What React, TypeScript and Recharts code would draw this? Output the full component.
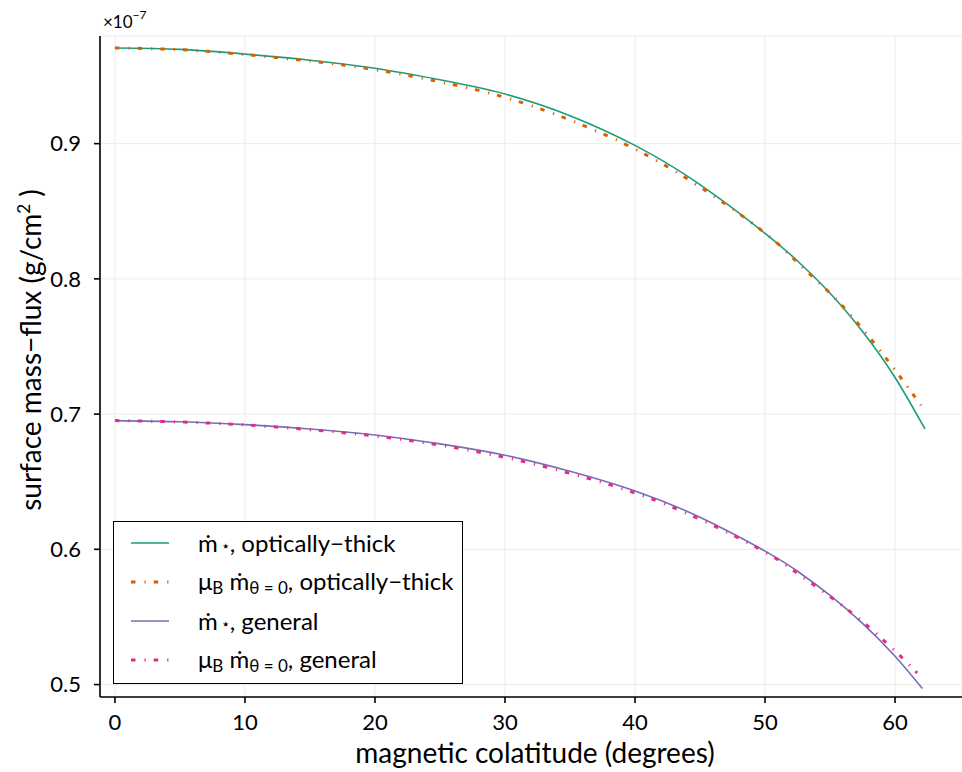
import React from 'react';
import { LineChart, Line, XAxis, YAxis, CartesianGrid, Legend, Label } from 'recharts';

// surface mass-flux in units of 1e-7 g/cm^2, vs magnetic colatitude (degrees)
const thickStar = [
  { x: 0, y: 0.9707 }, { x: 5, y: 0.9697 }, { x: 10, y: 0.9662 }, { x: 15, y: 0.9617 },
  { x: 20, y: 0.9557 }, { x: 25, y: 0.9472 }, { x: 30, y: 0.9367 }, { x: 35, y: 0.9207 },
  { x: 40, y: 0.8987 }, { x: 45, y: 0.8697 }, { x: 50, y: 0.8337 }, { x: 52.5, y: 0.8132 },
  { x: 55, y: 0.7894 }, { x: 57.5, y: 0.7611 }, { x: 60, y: 0.7271 }, { x: 62.3, y: 0.689 },
];

const thickPole = [
  { x: 0, y: 0.9707 }, { x: 5, y: 0.9695 }, { x: 10, y: 0.9659 }, { x: 15, y: 0.9611 },
  { x: 20, y: 0.9547 }, { x: 25, y: 0.9457 }, { x: 30, y: 0.9342 }, { x: 35, y: 0.9175 },
  { x: 40, y: 0.8960 }, { x: 45, y: 0.8680 }, { x: 50, y: 0.8339 }, { x: 52.5, y: 0.8121 },
  { x: 55, y: 0.7894 }, { x: 57.5, y: 0.7630 }, { x: 60, y: 0.7326 }, { x: 62.0, y: 0.7064 },
];

const generalStar = [
  { x: 0, y: 0.6952 }, { x: 5, y: 0.6943 }, { x: 10, y: 0.6922 }, { x: 15, y: 0.689 },
  { x: 20, y: 0.6846 }, { x: 25, y: 0.678 }, { x: 30, y: 0.6696 }, { x: 35, y: 0.6577 },
  { x: 40, y: 0.6432 }, { x: 45, y: 0.6237 }, { x: 50, y: 0.5987 }, { x: 52.5, y: 0.5838 },
  { x: 55, y: 0.5659 }, { x: 57.5, y: 0.5452 }, { x: 60, y: 0.5209 }, { x: 62.1, y: 0.497 },
];

const generalPole = [
  { x: 0, y: 0.6952 }, { x: 5, y: 0.6942 }, { x: 10, y: 0.692 }, { x: 15, y: 0.6885 },
  { x: 20, y: 0.6838 }, { x: 25, y: 0.677 }, { x: 30, y: 0.668 }, { x: 35, y: 0.6562 },
  { x: 40, y: 0.6417 }, { x: 45, y: 0.6222 }, { x: 50, y: 0.598 }, { x: 52.5, y: 0.5822 },
  { x: 55, y: 0.5651 }, { x: 57.5, y: 0.5465 }, { x: 60, y: 0.5249 }, { x: 61.7, y: 0.5086 },
];

const xTicks = [0, 10, 20, 30, 40, 50, 60];
const yTicks = [0.5, 0.6, 0.7, 0.8, 0.9];

const DASHDOT = '4.5 9 1.2 8';

const Star = () => <span style={{ fontSize: 15, verticalAlign: 1, marginLeft: 3 }}>⋆</span>;
const Sub = ({ children }: { children: React.ReactNode }) => (
  <span style={{ fontSize: 17, verticalAlign: -4 }}>{children}</span>
);

const legendRows = [
  { key: 'a', color: '#1b9e77', dash: undefined, width: 1.6, label: <><span>ṁ</span><Star />, optically−thick</> },
  { key: 'b', color: '#d95f02', dash: DASHDOT, width: 3, label: <>μ<Sub>B</Sub> ṁ<Sub>θ = 0</Sub>, optically−thick</> },
  { key: 'c', color: '#7570b3', dash: undefined, width: 1.6, label: <><span>ṁ</span><Star />, general</> },
  { key: 'd', color: '#e7298a', dash: DASHDOT, width: 3, label: <>μ<Sub>B</Sub> ṁ<Sub>θ = 0</Sub>, general</> },
];

function LegendBox() {
  return (
    <div
      style={{
        width: 350,
        height: 163,
        boxSizing: 'border-box',
        border: '1.5px solid #000',
        background: '#fff',
        paddingTop: 1,
      }}
    >
      {legendRows.map(r => (
        <div key={r.key} style={{ height: 39, display: 'flex', alignItems: 'center', fontSize: 24, color: '#000' }}>
          <svg width={84} height={10} style={{ flex: 'none' }}>
            <line x1={17} x2={55} y1={5} y2={5} stroke={r.color} strokeWidth={r.width} strokeDasharray={r.dash} />
          </svg>
          <span style={{ whiteSpace: 'nowrap' }}>{r.label}</span>
        </div>
      ))}
    </div>
  );
}

export default function App() {
  return (
    <div style={{ position: 'absolute', left: 0, top: 0, fontFamily: 'Lato, "Noto Sans", sans-serif', background: '#fff' }}>
      <LineChart width={962} height={772} margin={{ top: 36, right: 0, bottom: 0, left: 0 }}>
        <CartesianGrid stroke="#ececec" strokeWidth={1} />
        <XAxis
          dataKey="x"
          type="number"
          domain={[-1.15, 65.15]}
          ticks={xTicks}
          allowDataOverflow
          height={75}
          stroke="#000"
          strokeWidth={1.6}
          tickSize={6}
          tickMargin={11}
          tick={{ fontSize: 22, fill: '#000' }}
        >
          <Label
            content={() => (
              <text x={535} y={763} textAnchor="middle" fontSize={28} fill="#000">
                magnetic colatitude (degrees)
              </text>
            )}
          />
        </XAxis>
        <XAxis
          xAxisId="top"
          orientation="top"
          dataKey="x"
          type="number"
          domain={[-1.15, 65.15]}
          ticks={xTicks}
          allowDataOverflow
          height={0}
          stroke="#000"
          strokeWidth={1.6}
          tickSize={6}
          tick={false}
        />
        <YAxis
          type="number"
          domain={[0.4908, 0.9796]}
          ticks={yTicks}
          allowDataOverflow
          width={100}
          stroke="#000"
          strokeWidth={1.6}
          tickSize={6}
          tickMargin={13}
          tick={{ fontSize: 22, fill: '#000' }}
          tickFormatter={(v: number) => v.toFixed(1)}
        >
          <Label
            content={() => (
              <g>
                <text x={41} y={350} textAnchor="middle" fontSize={28} fill="#000" transform="rotate(-90 41 350)">
                  surface mass−flux (g/cm<tspan dy={-11} fontSize={17}>2</tspan>
                  <tspan dy={11}> )</tspan>
                </text>
                <text x={103} y={28} fontSize={17} fill="#000">
                  ×10<tspan dy={-9} fontSize={12}>−7</tspan>
                </text>
              </g>
            )}
          />
        </YAxis>
        <Line data={thickStar} dataKey="y" type="natural" stroke="#1b9e77" strokeWidth={1.6} dot={false} isAnimationActive={false} />
        <Line data={thickPole} dataKey="y" type="natural" stroke="#d95f02" strokeWidth={3} strokeDasharray={DASHDOT} dot={false} isAnimationActive={false} />
        <Line data={generalStar} dataKey="y" type="natural" stroke="#7570b3" strokeWidth={1.6} dot={false} isAnimationActive={false} />
        <Line data={generalPole} dataKey="y" type="natural" stroke="#e7298a" strokeWidth={3} strokeDasharray={DASHDOT} dot={false} isAnimationActive={false} />
        <Legend
          layout="horizontal"
          verticalAlign="middle"
          align="center"
          content={() => <LegendBox />}
          wrapperStyle={{ position: 'absolute', left: 113, top: 521, width: 350, height: 163 }}
        />
      </LineChart>
    </div>
  );
}
